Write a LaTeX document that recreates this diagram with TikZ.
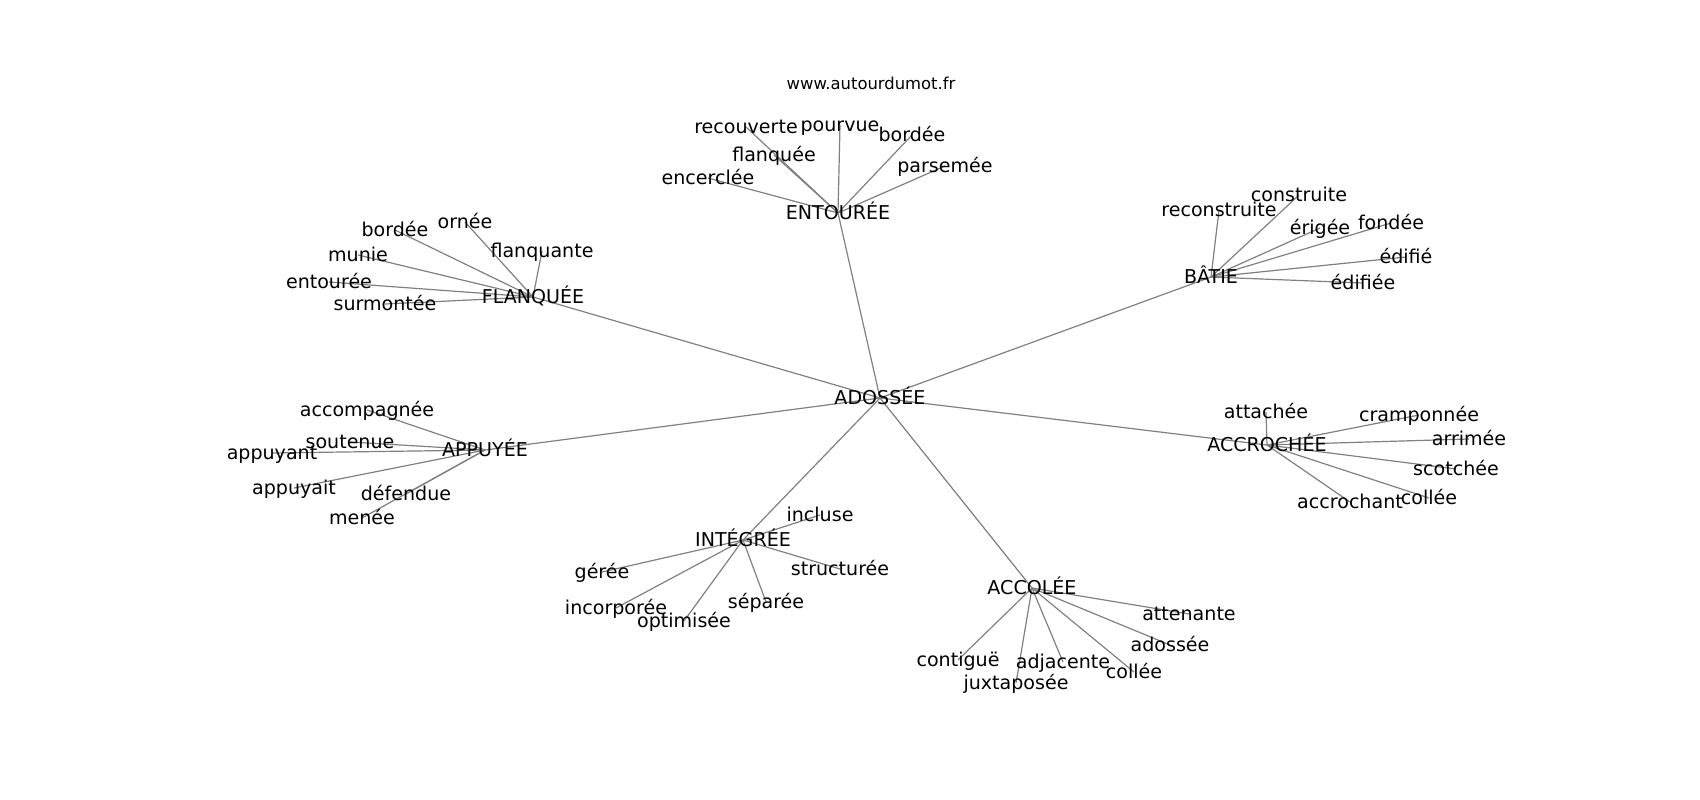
\documentclass[tikz,border=0pt]{standalone}
\usepackage{fontspec}
\setmainfont{DejaVu Sans}
\usetikzlibrary{backgrounds}
\definecolor{edgegray}{RGB}{128,128,128}
\tikzset{
  word/.style={inner sep=0pt, font=\fontsize{14.3}{16}\selectfont, text height=1.0em, text depth=0em, anchor=center},
  site/.style={inner sep=0pt, font=\fontsize{12.3}{14}\selectfont, text height=1.0em, text depth=0em, anchor=center},
  link/.style={draw=edgegray, line width=0.9pt}
}
\begin{document}
\begin{tikzpicture}[x=0.75pt,y=-0.75pt]
\useasboundingbox (0,0) rectangle (1700,800);
\node[site] (www) at (871,83) {www.autourdumot.fr};
% hubs
\node[word] (hub) at (880,398) {ADOSSÉE};
\node[word] (ent) at (838,213) {ENTOURÉE};
\node[word] (flq) at (533,297) {FLANQUÉE};
\node[word] (bat) at (1211,277) {BÂTIE};
\node[word] (app) at (485,450) {APPUYÉE};
\node[word] (acc) at (1267,445) {ACCROCHÉE};
\node[word] (int) at (743,540) {INTÉGRÉE};
\node[word] (acl) at (1032,588) {ACCOLÉE};
% ENTOURÉE
\node[word] (e1) at (746,127) {recouverte};
\node[word] (e2) at (840,125) {pourvue};
\node[word] (e3) at (912,135) {bordée};
\node[word] (e4) at (774,155) {flanquée};
\node[word] (e5) at (945,166) {parsemée};
\node[word] (e6) at (708,178) {encerclée};
% FLANQUÉE
\node[word] (f1) at (395,230) {bordée};
\node[word] (f2) at (465,222) {ornée};
\node[word] (f3) at (542,251) {flanquante};
\node[word] (f4) at (358,255) {munie};
\node[word] (f5) at (329,282) {entourée};
\node[word] (f6) at (385,304) {surmontée};
% BÂTIE
\node[word] (b1) at (1219,210) {reconstruite};
\node[word] (b2) at (1299,195) {construite};
\node[word] (b3) at (1320,228) {érigée};
\node[word] (b4) at (1391,223) {fondée};
\node[word] (b5) at (1406,257) {édifié};
\node[word] (b6) at (1363,283) {édifiée};
% APPUYÉE
\node[word] (a1) at (367,410) {accompagnée};
\node[word] (a2) at (350,442) {soutenue};
\node[word] (a3) at (272,453) {appuyant};
\node[word] (a4) at (294,488) {appuyait};
\node[word] (a5) at (406,494) {défendue};
\node[word] (a6) at (362,518) {menée};
% ACCROCHÉE
\node[word] (c1) at (1266,412) {attachée};
\node[word] (c2) at (1419,415) {cramponnée};
\node[word] (c3) at (1469,439) {arrimée};
\node[word] (c4) at (1456,469) {scotchée};
\node[word] (c5) at (1429,498) {collée};
\node[word] (c6) at (1350,502) {accrochant};
% INTÉGRÉE
\node[word] (i1) at (820,515) {incluse};
\node[word] (i2) at (602,572) {gérée};
\node[word] (i3) at (840,569) {structurée};
\node[word] (i4) at (766,602) {séparée};
\node[word] (i5) at (616,608) {incorporée};
\node[word] (i6) at (684,621) {optimisée};
% ACCOLÉE
\node[word] (l1) at (1189,614) {attenante};
\node[word] (l2) at (1170,645) {adossée};
\node[word] (l3) at (958,660) {contiguë};
\node[word] (l4) at (1063,662) {adjacente};
\node[word] (l5) at (1134,672) {collée};
\node[word] (l6) at (1016,683) {juxtaposée};
\begin{scope}[on background layer]
\foreach \h in {ent,flq,bat,app,acc,int,acl} \draw[link] (hub.center) -- (\h.center);
\foreach \c in {e1,e2,e3,e4,e5,e6} \draw[link] (ent.center) -- (\c.center);
\foreach \c in {f1,f2,f3,f4,f5,f6} \draw[link] (flq.center) -- (\c.center);
\foreach \c in {b1,b2,b3,b4,b5,b6} \draw[link] (bat.center) -- (\c.center);
\foreach \c in {a1,a2,a3,a4,a5,a6} \draw[link] (app.center) -- (\c.center);
\foreach \c in {c1,c2,c3,c4,c5,c6} \draw[link] (acc.center) -- (\c.center);
\foreach \c in {i1,i2,i3,i4,i5,i6} \draw[link] (int.center) -- (\c.center);
\foreach \c in {l1,l2,l3,l4,l5,l6} \draw[link] (acl.center) -- (\c.center);
\end{scope}
\end{tikzpicture}
\end{document}
